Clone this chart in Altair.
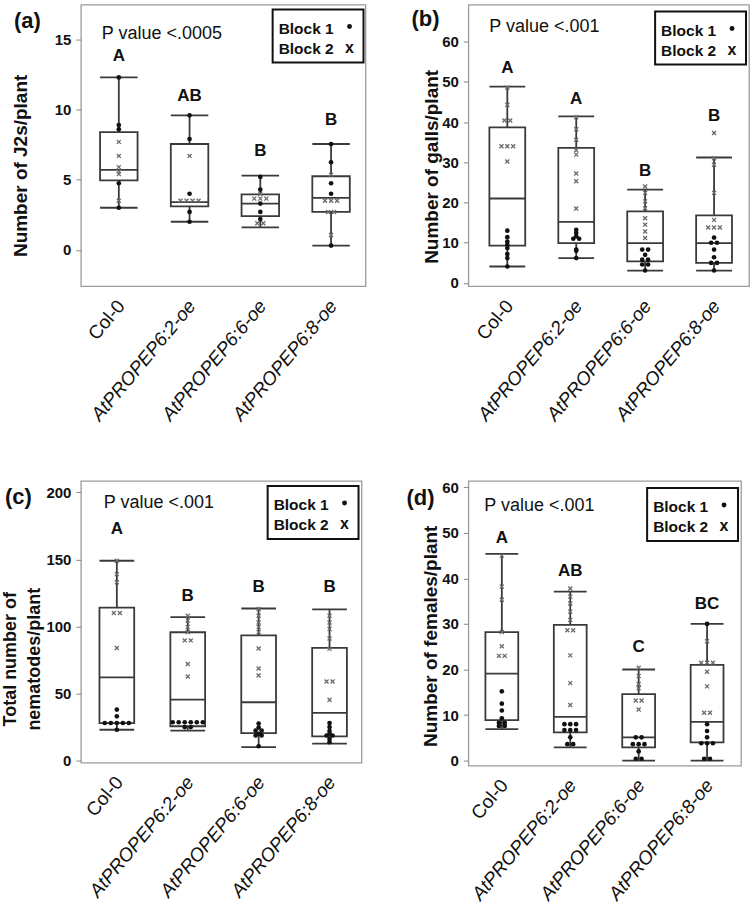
import json
import altair as alt
import pandas as pd

GENOTYPES = ["Col-0", "AtPROPEP6:2-oe", "AtPROPEP6:6-oe", "AtPROPEP6:8-oe"]

FONT = "Liberation Sans, Arial, Helvetica, sans-serif"

# ---- (a) J2s per plant -------------------------------------------------
J2_LOW = [3.0, 2.0, 1.6, 0.3]
J2_Q1 = [4.95, 3.1, 2.4, 2.7]
J2_MED = [5.7, 3.4, 3.3, 3.7]
J2_Q3 = [8.4, 7.55, 3.95, 5.25]
J2_HIGH = [12.3, 9.6, 5.3, 7.55]
J2_BLOCK1 = [[12.3, 8.9, 8.6, 4.75, 3.0],
             [9.6, 7.9, 4.0, 2.7, 2.0],
             [5.2, 4.3, 3.3, 2.7, 2.2],
             [7.55, 6.25, 4.75, 4.0, 0.3]]
J2_BLOCK2 = [[7.7, 6.7, 5.9, 5.6, 5.4, 3.5],
             [6.7, 3.5, 3.5, 3.5, 3.5],
             [4.0, 3.65, 3.65, 3.65, 1.9, 1.9],
             [5.35, 3.5, 3.5, 3.5, 2.7, 2.7, 1.05]]
J2_LETTERS = ["A", "AB", "B", "B"]
J2_LETTER_Y = [13.2, 10.35, 6.4, 8.6]

# ---- (b) galls per plant -----------------------------------------------
GALL_LOW = [4.1, 6.2, 3.1, 3.1]
GALL_Q1 = [9.3, 9.9, 5.4, 5.0]
GALL_MED = [21.0, 15.2, 9.9, 9.9]
GALL_Q3 = [38.7, 33.6, 17.8, 16.8]
GALL_HIGH = [48.8, 41.4, 23.2, 31.2]
GALL_BLOCK1 = [[13.0, 11.4, 10.3, 9.5, 8.7, 7.2, 6.2, 4.1],
               [13.2, 12.4, 11.6, 11.0, 11.0, 8.3, 8.0, 6.2],
               [8.3, 8.3, 7.0, 5.8, 5.8, 4.6, 4.6, 3.1],
               [11.3, 10.0, 10.0, 8.3, 6.4, 5.0, 5.0, 3.1]]
GALL_BLOCK2 = [[48.6, 44.3, 40.4, 40.4, 34.0, 34.0, 34.0, 30.2],
               [41.2, 38.2, 35.6, 33.0, 31.9, 27.2, 25.3, 18.5],
               [24.0, 22.4, 20.3, 18.6, 16.1, 14.5, 12.8, 11.2],
               [37.3, 31.0, 29.4, 22.4, 15.7, 13.8, 13.8, 13.8]]
GALL_LETTERS = ["A", "A", "B", "B"]
GALL_LETTER_Y = [51.3, 43.5, 25.7, 39.3]

# ---- (c) total nematodes per plant --------------------------------------
NEM_LOW = [23.0, 22.4, 10.0, 12.7]
NEM_Q1 = [28.0, 25.6, 20.4, 18.0]
NEM_MED = [62.0, 45.5, 43.5, 35.6]
NEM_Q3 = [114.0, 95.7, 93.3, 84.0]
NEM_HIGH = [149.0, 107.0, 113.4, 112.7]
NEM_BLOCK1 = [[38, 33, 28, 28, 28, 28, 28, 23],
              [28.6, 28.6, 28.6, 28.6, 28.6, 28.6, 25, 25],
              [27.6, 24.6, 22.4, 22.4, 20.0, 18.7, 18.7, 10.7],
              [28, 25, 22, 20, 18.7, 18.7, 16, 13.7]]
NEM_BLOCK2 = [[149, 139, 133, 110, 110, 84],
              [108, 104.5, 99.5, 95.8, 89.6, 89.6, 72, 62.7],
              [113, 108, 103, 99.5, 95.8, 83.6, 68.7, 63.4],
              [108, 103, 98, 91, 83.3, 59, 59, 45.3]]
NEM_LETTERS = ["A", "B", "B", "B"]
NEM_LETTER_Y = [165.7, 115.7, 123.0, 123.0]

# ---- (d) females per plant ----------------------------------------------
FEM_LOW = [6.9, 2.9, 0.0, 0.0]
FEM_Q1 = [8.9, 6.2, 2.9, 4.0]
FEM_MED = [19.1, 9.6, 5.1, 8.5]
FEM_Q3 = [28.2, 29.8, 14.6, 21.0]
FEM_HIGH = [45.4, 37.1, 20.0, 30.0]
FEM_BLOCK1 = [[15.2, 12.5, 11.0, 9.3, 8.3, 8.3, 7.6, 7.6],
              [8.0, 8.0, 8.0, 6.7, 6.7, 6.7, 5.1, 3.6, 3.6],
              [5.1, 5.1, 3.6, 3.6, 3.6, 2.0, 0.4, 0.4],
              [30.0, 8.0, 6.5, 5.1, 3.8, 3.8, 3.8, 0.4, 0.4]]
FEM_BLOCK2 = [[45.0, 38.2, 35.3, 28.2, 25.1, 23.0, 23.0],
              [37.8, 36.0, 34.5, 32.7, 30.9, 28.6, 28.6, 23.1, 17.0, 12.2],
              [20.4, 18.6, 16.8, 15.9, 13.2, 13.2, 11.2],
              [26.2, 21.5, 21.5, 21.5, 19.5, 16.3, 10.5, 10.5]]
FEM_LETTERS = ["A", "AB", "C", "BC"]
FEM_LETTER_Y = [46.8, 39.7, 22.9, 32.3]

BOX_STROKE = "#3a3a3a"
CROSS = "M-1,-1L1,1M1,-1L-1,1"


def spread(groups, step=0.085):
    """Place repeated values of one group side by side."""
    rows = []
    for g, vals in enumerate(groups):
        total = {}
        for v in vals:
            total[v] = total.get(v, 0) + 1
        seen = {}
        for v in vals:
            k = seen.get(v, 0)
            seen[v] = k + 1
            rows.append({"g": g, "v": v, "xp": g + (k - (total[v] - 1) / 2) * step})
    return pd.DataFrame(rows)


def one_row():
    return pd.DataFrame({"k": [0]})


def panel(tag, title, low, q1, med, q3, high, block1, block2, letters, letter_y,
          pvalue, ydomain, yticks, major, xdomain, width, height, hw,
          title_xy, title_size, tag_xy, pval_xy, legend_top, legend_right):
    xs = alt.Scale(domain=xdomain, nice=False, zero=False)
    ys = alt.Scale(domain=ydomain, nice=False, zero=False)

    stats = pd.DataFrame({"g": range(4), "low": low, "q1": q1, "med": med,
                          "q3": q3, "high": high})
    stats["left"] = stats["g"] - hw
    stats["right"] = stats["g"] + hw

    x_axis = alt.Axis(
        values=[0, 1, 2, 3],
        labelExpr=json.dumps(GENOTYPES) + "[datum.value]",
        labelAngle=310, labelAlign="right", labelBaseline="middle",
        labelFont=FONT, labelFontSize=19, labelColor="#111",
        labelFontStyle={"condition": {"test": "datum.value == 0", "value": "normal"},
                        "value": "italic"},
        labelPadding=16, labelOffset=2, labelOverlap=False, labelBound=False,
        labelFlush=False, ticks=False, domain=False, grid=False, title=None,
    )
    y_axis = alt.Axis(
        values=yticks,
        labelExpr=f"datum.value % {major} === 0 ? datum.label : ''",
        labelFont=FONT, labelFontSize=15, labelFontWeight="bold", labelColor="#111",
        labelPadding=5, tickSize=5, tickColor="#888", tickWidth=1,
        labelOverlap=False, labelFlush=False,
        domain=False, grid=False,
        title=title, titleFont=FONT, titleFontSize=title_size, titleFontWeight="bold",
        titleColor="#111", titleAngle=270, titleAlign="center", titleBaseline="middle",
        titleX=title_xy[0], titleY=title_xy[1], titleLineHeight=24,
    )

    base = alt.Chart(stats)
    whisker = base.mark_rule(color=BOX_STROKE, strokeWidth=1.8).encode(
        x=alt.X("g:Q", scale=xs, axis=x_axis),
        y=alt.Y("low:Q", scale=ys, axis=y_axis),
        y2="high:Q",
    )
    box = base.mark_rect(fill="white", stroke=BOX_STROKE, strokeWidth=1.8).encode(
        x=alt.X("left:Q", scale=xs), x2="right:Q",
        y=alt.Y("q1:Q", scale=ys), y2="q3:Q",
    )
    layers = [whisker, box]
    for field in ["med", "low", "high"]:
        layers.append(base.mark_rule(color=BOX_STROKE, strokeWidth=1.8).encode(
            x=alt.X("left:Q", scale=xs), x2="right:Q",
            y=alt.Y(f"{field}:Q", scale=ys),
        ))

    dots = alt.Chart(spread(block1)).mark_point(
        shape="circle", filled=True, size=22, color="#111", opacity=1
    ).encode(x=alt.X("xp:Q", scale=xs), y=alt.Y("v:Q", scale=ys))
    crosses = alt.Chart(spread(block2)).mark_point(
        shape=CROSS, filled=False, size=16, stroke="#6a6a6a", strokeWidth=1.3, opacity=1
    ).encode(x=alt.X("xp:Q", scale=xs), y=alt.Y("v:Q", scale=ys))
    layers += [crosses, dots]

    letter_df = pd.DataFrame({"g": range(4), "y": letter_y, "t": letters})
    layers.append(alt.Chart(letter_df).mark_text(
        font=FONT, fontSize=17, fontWeight="bold", baseline="bottom", color="#111"
    ).encode(x=alt.X("g:Q", scale=xs), y=alt.Y("y:Q", scale=ys), text="t:N"))

    # panel tag and p-value
    layers.append(alt.Chart(one_row()).mark_text(
        text=tag, font=FONT, fontSize=22, fontWeight="bold", align="left",
        baseline="alphabetic", color="#111"
    ).encode(x=alt.value(tag_xy[0]), y=alt.value(tag_xy[1])))
    layers.append(alt.Chart(one_row()).mark_text(
        text=pvalue, font=FONT, fontSize=18, align="left", baseline="alphabetic", color="#111"
    ).encode(x=alt.value(pval_xy[0]), y=alt.value(pval_xy[1])))

    # block legend
    lx1 = width - legend_right
    lx0 = lx1 - 91
    ly0 = legend_top
    ly1 = ly0 + 53
    layers.append(alt.Chart(one_row()).mark_rect(
        fill="white", stroke="#111", strokeWidth=2
    ).encode(x=alt.value(lx0), x2=alt.value(lx1), y=alt.value(ly0), y2=alt.value(ly1)))
    for i, label in enumerate(["Block 1", "Block 2"]):
        layers.append(alt.Chart(one_row()).mark_text(
            text=label, font=FONT, fontSize=15.5, fontWeight="bold", align="left",
            baseline="alphabetic", color="#111"
        ).encode(x=alt.value(lx0 + 6), y=alt.value(ly0 + 24 + 20 * i)))
    layers.append(alt.Chart(one_row()).mark_point(
        shape="circle", filled=True, size=24, color="#111", opacity=1
    ).encode(x=alt.value(lx0 + 77), y=alt.value(ly0 + 17)))
    layers.append(alt.Chart(one_row()).mark_text(
        text="x", font=FONT, fontSize=16, fontWeight="bold", baseline="middle", color="#111"
    ).encode(x=alt.value(lx0 + 77), y=alt.value(ly0 + 38)))

    return alt.layer(*layers).properties(width=width, height=height)


pa = panel("(a)", "Number of J2s/plant", J2_LOW, J2_Q1, J2_MED, J2_Q3, J2_HIGH,
           J2_BLOCK1, J2_BLOCK2, J2_LETTERS, J2_LETTER_Y, "P value <.0005",
           [-2.6, 17.5], [0, 5, 10, 15], 5, [-0.536, 3.487], 285, 282, 0.265,
           (-60, 161), 19, (-67, 23), (21, 34), 5, 2)
pb = panel("(b)", "Number of galls/plant", GALL_LOW, GALL_Q1, GALL_MED, GALL_Q3, GALL_HIGH,
           GALL_BLOCK1, GALL_BLOCK2, GALL_LETTERS, GALL_LETTER_Y, "P value <.001",
           [-0.8, 69.2], [0, 10, 20, 30, 40, 50, 60], 10, [-0.565, 3.507], 281, 282, 0.26,
           (-37, 162), 19, (-57, 21), (21, 27), 7, 3)
pc = panel("(c)", ["Total number of", "nematodes/plant"], NEM_LOW, NEM_Q1, NEM_MED, NEM_Q3,
           NEM_HIGH, NEM_BLOCK1, NEM_BLOCK2, NEM_LETTERS, NEM_LETTER_Y, "P value <.001",
           [-1.5, 208.5], list(range(0, 201, 25)), 50, [-0.507, 3.451], 281, 282, 0.245,
           (-70, 178), 18, (-76, 23), (23, 27), 5, 3)
pd_ = panel("(d)", "Number of females/plant", FEM_LOW, FEM_Q1, FEM_MED, FEM_Q3, FEM_HIGH,
            FEM_BLOCK1, FEM_BLOCK2, FEM_LETTERS, FEM_LETTER_Y, "P value <.001",
            [-1.1, 61.4], list(range(0, 61, 5)), 10, [-0.489, 3.496], 273, 285, 0.24,
            (-38, 155), 19, (-62, 24), (16, 30), 7, 3)

chart = alt.concat(
    pa, pb, pc, pd_, columns=2, spacing={"row": 195, "column": 103},
    bounds="flush", align="none",
).configure_view(
    stroke="#9c9c9c", strokeWidth=1.3
).properties(
    padding={"left": 1, "top": 3, "right": 0, "bottom": 0},
    background="white",
)

chart.save("out.html", embed_options={"renderer": "svg", "actions": False})
